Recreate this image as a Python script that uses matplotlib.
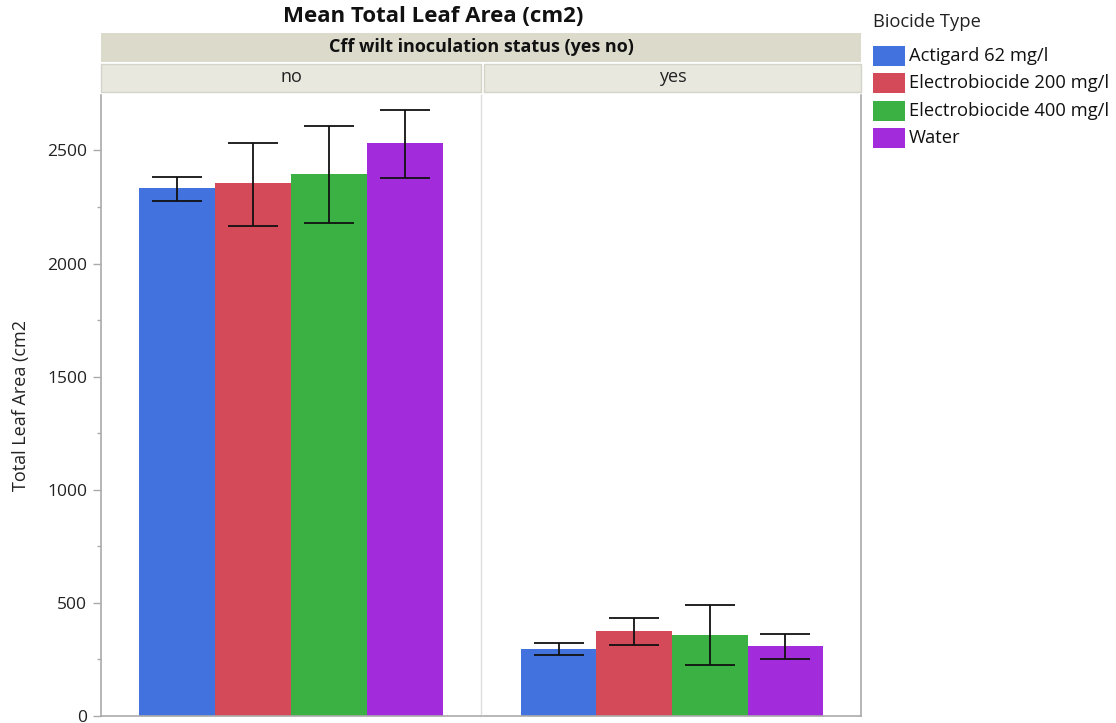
import matplotlib
matplotlib.use("Agg")
import matplotlib.pyplot as plt
from matplotlib.patches import Rectangle
import numpy as np

plt.rcParams['font.family'] = ['Open Sans', 'DejaVu Sans']

panels = ["no", "yes"]
biocides = ["Actigard 62 mg/l", "Electrobiocide 200 mg/l", "Electrobiocide 400 mg/l", "Water"]
colors = ["#4172DE", "#D54A59", "#3AB142", "#A22CDB"]
means_no = [2332, 2354, 2394, 2531]
err_lo_no = [2275, 2164, 2178, 2376]
err_hi_no = [2381, 2531, 2606, 2677]
means_yes = [296, 375, 358, 309]
err_lo_yes = [271, 312, 224, 252]
err_hi_yes = [324, 433, 490, 364]
yticks = [0, 500, 1000, 1500, 2000, 2500]

W, H = 1116, 723
fig = plt.figure(figsize=(W / 100, H / 100), dpi=100)

def fx(px):
    return px / W

def fy(py):
    return 1 - py / H

ax_bottom, ax_top = 716, 95
ax1 = fig.add_axes([fx(101), fy(ax_bottom), fx(481 - 101), fy(ax_top) - fy(ax_bottom)])
ax2 = fig.add_axes([fx(483), fy(ax_bottom), fx(861 - 483), fy(ax_top) - fy(ax_bottom)])

data = [(means_no, err_lo_no, err_hi_no), (means_yes, err_lo_yes, err_hi_yes)]
for ax, (m, lo, hi) in zip([ax1, ax2], data):
    x = np.arange(len(m))
    m = np.array(m); lo = np.array(lo); hi = np.array(hi)
    ax.bar(x, m, width=1.0, color=colors, edgecolor="none")
    ax.errorbar(x, m, yerr=[m - lo, hi - m], fmt="none", ecolor="#111111",
                elinewidth=1.3, capsize=18, capthick=1.3)
    ax.set_xlim(-1.0, 4.0)
    ax.set_ylim(0, 2745)
    ax.set_xticks([])
    for s in ax.spines.values():
        s.set_color("#aaaaaa")
        s.set_linewidth(1.2)
    ax.spines["top"].set_visible(False)

ax1.set_yticks(yticks)
ax1.set_yticks(np.arange(250, 2750, 500), minor=True)
ax1.tick_params(axis="y", which="major", length=6, width=1, color="#aaaaaa",
                labelsize=12.5, labelcolor="#222222", pad=4)
ax1.tick_params(axis="y", which="minor", length=3, width=1, color="#aaaaaa")
ax1.spines["right"].set_color("#dddddd")
ax1.spines["right"].set_linewidth(1)
ax2.set_yticks([])
ax2.spines["left"].set_visible(False)
ax1.set_ylabel("Total Leaf Area (cm2", fontsize=13, color="#222222", labelpad=12)

# header strips
fig.patches.append(Rectangle((fx(101), fy(62)), fx(861 - 101), fy(33) - fy(62),
                             transform=fig.transFigure, facecolor="#dcdacb",
                             edgecolor="none", zorder=0))
fig.text(fx(481), fy(46.5), "Cff wilt inoculation status (yes no)", ha="center",
         va="center", fontsize=13, fontweight="bold", color="#111111")
for (x0, x1), lab in zip([(101, 481), (484, 861)], panels):
    fig.patches.append(Rectangle((fx(x0), fy(92)), fx(x1 - x0), fy(64) - fy(92),
                                 transform=fig.transFigure, facecolor="#e8e8df",
                                 edgecolor="#d4d4c8", linewidth=1, zorder=0))
    fig.text(fx((x0 + x1) / 2), fy(77), lab, ha="center", va="center",
             fontsize=13, color="#222222")

fig.text(fx(433), fy(17), "Mean Total Leaf Area (cm2)", ha="center", va="center",
         fontsize=16, fontweight="bold", color="#111111")

# legend
fig.text(fx(873), fy(22), "Biocide Type", ha="left", va="center", fontsize=13.2,
         color="#222222")
for i, (lab, c) in enumerate(zip(biocides, colors)):
    ytop = 46 + i * 27.3
    fig.patches.append(Rectangle((fx(873), fy(ytop + 20)), fx(32), fy(ytop) - fy(ytop + 20),
                                 transform=fig.transFigure, facecolor=c, edgecolor="none"))
    fig.text(fx(909), fy(ytop + 10), lab, ha="left", va="center", fontsize=13.2,
             color="#111111")

fig.savefig("out.png", dpi=100)
